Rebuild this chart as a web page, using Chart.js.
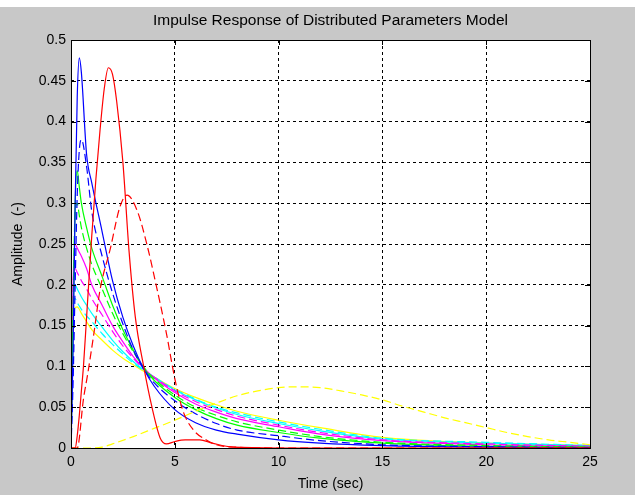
<!DOCTYPE html>
<html>
<head>
<meta charset="utf-8">
<script src="https://cdn.jsdelivr.net/npm/chart.js@4"></script>
<style>
    html, body { margin: 0; padding: 0; background: #ffffff; }
    #wrap { width: 635px; height: 495px; }
</style>
</head>
<body>
<div id="wrap"><canvas id="chart" width="635" height="495"></canvas></div>
<script>
// time grid shared by the exponential-like responses
const T = [0, 0.1, 0.2, 0.3, 0.4, 0.5, 0.75, 1, 1.5, 2, 2.5, 3, 3.5, 4, 5, 6, 7, 8, 10, 12, 15, 20, 25];

const blueSolid     = [0, 0.12, 0.30, 0.43, 0.478, 0.46, 0.36, 0.325, 0.265, 0.205, 0.16, 0.125, 0.097, 0.076, 0.047, 0.031, 0.022, 0.017, 0.010, 0.006, 0.003, 0.001, 0];
const blueDashed    = [0, 0.08, 0.20, 0.31, 0.365, 0.378, 0.345, 0.29, 0.235, 0.19, 0.152, 0.12, 0.097, 0.080, 0.058, 0.042, 0.030, 0.022, 0.015, 0.009, 0.004, 0.0015, 0.0005];
const greenSolid    = [0, 0.15, 0.30, 0.34, 0.32, 0.30, 0.27, 0.245, 0.21, 0.175, 0.145, 0.12, 0.098, 0.083, 0.062, 0.047, 0.036, 0.028, 0.019, 0.012, 0.006, 0.002, 0.001];
const greenDashed   = [0, 0.17, 0.29, 0.30, 0.285, 0.27, 0.245, 0.225, 0.195, 0.165, 0.14, 0.118, 0.099, 0.085, 0.065, 0.050, 0.040, 0.032, 0.022, 0.014, 0.007, 0.003, 0.001];
const magentaSolid  = [0, 0.20, 0.25, 0.245, 0.24, 0.235, 0.22, 0.20, 0.175, 0.15, 0.13, 0.112, 0.098, 0.086, 0.068, 0.054, 0.044, 0.036, 0.026, 0.017, 0.009, 0.004, 0.002];
const magentaDashed = [0, 0.20, 0.22, 0.215, 0.21, 0.205, 0.195, 0.183, 0.163, 0.143, 0.125, 0.11, 0.097, 0.087, 0.070, 0.057, 0.047, 0.039, 0.028, 0.019, 0.010, 0.005, 0.002];
const cyanSolid     = [0, 0.19, 0.20, 0.195, 0.19, 0.185, 0.175, 0.165, 0.148, 0.132, 0.118, 0.106, 0.096, 0.087, 0.071, 0.059, 0.049, 0.041, 0.030, 0.021, 0.011, 0.006, 0.003];
const cyanDashed    = [0, 0.18, 0.183, 0.178, 0.174, 0.17, 0.162, 0.155, 0.14, 0.127, 0.115, 0.104, 0.095, 0.087, 0.072, 0.060, 0.050, 0.043, 0.032, 0.023, 0.012, 0.007, 0.003];
const yellowSolid   = [0, 0.16, 0.172, 0.173, 0.17, 0.165, 0.155, 0.145, 0.132, 0.12, 0.11, 0.102, 0.094, 0.087, 0.073, 0.062, 0.053, 0.045, 0.034, 0.025, 0.013, 0.006, 0.003];

// narrow red pulses
const redT      = [0, 0.2, 0.3, 0.4, 0.5, 0.6, 0.75, 1, 1.2, 1.4, 1.6, 1.8, 2, 2.2, 2.5, 2.8, 3.1, 3.5, 3.9, 4.3, 4.6, 5, 5.5, 6.2, 6.8, 7.8, 10, 25];
const redSolid  = [0, 0, 0.015, 0.04, 0.07, 0.10, 0.16, 0.26, 0.33, 0.39, 0.44, 0.466, 0.458, 0.425, 0.35, 0.24, 0.16, 0.10, 0.05, 0.012, 0.005, 0.008, 0.010, 0.010, 0.006, 0.001, 0, 0];
const redDashT  = [0, 0.3, 0.6, 0.8, 1.1, 1.4, 1.9, 2.35, 2.7, 3.2, 3.65, 4.1, 4.6, 5, 5.4, 5.9, 6.5, 7, 8, 10, 25];
const redDashed = [0, 0, 0.06, 0.09, 0.14, 0.194, 0.245, 0.295, 0.31, 0.29, 0.25, 0.20, 0.14, 0.085, 0.045, 0.022, 0.010, 0.004, 0.001, 0, 0];

// slow, delayed response
const yellowT      = [0, 1, 1.5, 2, 3, 4, 5, 6, 7, 8, 9, 10, 11, 12, 13, 14, 15, 16, 17, 18, 19, 20, 21, 22, 23, 24, 25];
const yellowDashed = [0, 0, 0.001, 0.005, 0.014, 0.024, 0.034, 0.045, 0.055, 0.064, 0.070, 0.074, 0.075, 0.074, 0.070, 0.065, 0.059, 0.051, 0.044, 0.037, 0.031, 0.025, 0.019, 0.014, 0.010, 0.007, 0.004];

const xTicks = [0, 5, 10, 15, 20, 25];
const yTicks = [0, 0.05, 0.1, 0.15, 0.2, 0.25, 0.3, 0.35, 0.4, 0.45, 0.5];

const TITLE = 'Impulse Response of Distributed Parameters Model';
const FONT = 'Liberation Sans, Arial, sans-serif';
const DASH = [8, 4];

function toPoints(xs, ys) {
    return xs.map((x, i) => ({ x: x, y: ys[i] }));
}

function series(label, xs, ys, color, dashed) {
    return {
        label: label,
        data: toPoints(xs, ys),
        borderColor: color,
        backgroundColor: color,
        borderWidth: 1.2,
        borderDash: dashed ? DASH : [],
        pointRadius: 0,
        showLine: true,
        fill: false,
        cubicInterpolationMode: 'monotone'
    };
}

// grey figure, white axes box, inward ticks and the title centred on the axes
const figurePlugin = {
    id: 'figure',
    beforeDraw(chart) {
        const { ctx, chartArea: a } = chart;
        ctx.save();
        ctx.fillStyle = '#c8c8c8';
        ctx.fillRect(0, 7, chart.width, chart.height - 7);
        ctx.fillStyle = '#ffffff';
        ctx.fillRect(0, 0, chart.width, 7);
        ctx.fillRect(a.left, a.top, a.right - a.left, a.bottom - a.top);
        ctx.restore();
    },
    afterDraw(chart) {
        const { ctx, chartArea: a, scales } = chart;
        ctx.save();
        ctx.strokeStyle = '#000000';
        ctx.lineWidth = 1;
        ctx.strokeRect(Math.round(a.left) + 0.5, Math.round(a.top) + 0.5,
            Math.round(a.right - a.left), Math.round(a.bottom - a.top));
        ctx.beginPath();
        xTicks.forEach(v => {
            const px = Math.round(scales.x.getPixelForValue(v)) + 0.5;
            ctx.moveTo(px, a.bottom); ctx.lineTo(px, a.bottom - 5);
            ctx.moveTo(px, a.top); ctx.lineTo(px, a.top + 5);
        });
        yTicks.forEach(v => {
            const py = Math.round(scales.y.getPixelForValue(v)) + 0.5;
            ctx.moveTo(a.left, py); ctx.lineTo(a.left + 5, py);
            ctx.moveTo(a.right, py); ctx.lineTo(a.right - 5, py);
        });
        ctx.stroke();

        ctx.fillStyle = '#000000';
        ctx.font = '15.5px ' + FONT;
        ctx.textAlign = 'center';
        ctx.textBaseline = 'middle';
        ctx.fillText(TITLE, (a.left + a.right) / 2, 21);
        ctx.restore();
    }
};

new Chart(document.getElementById('chart').getContext('2d'), {
    type: 'scatter',
    data: {
        datasets: [
            series('Red', redT, redSolid, '#ff0000', false),
            series('Red (dashed)', redDashT, redDashed, '#ff0000', true),
            series('Yellow (dashed)', yellowT, yellowDashed, '#ffff00', true),
            series('Blue', T, blueSolid, '#0000ff', false),
            series('Blue (dashed)', T, blueDashed, '#0000ff', true),
            series('Green', T, greenSolid, '#00ff00', false),
            series('Green (dashed)', T, greenDashed, '#00ff00', true),
            series('Magenta', T, magentaSolid, '#ff00ff', false),
            series('Magenta (dashed)', T, magentaDashed, '#ff00ff', true),
            series('Cyan', T, cyanSolid, '#00ffff', false),
            series('Cyan (dashed)', T, cyanDashed, '#00ffff', true),
            series('Yellow', T, yellowSolid, '#ffff00', false)
        ]
    },
    options: {
        responsive: false,
        animation: false,
        layout: { padding: { left: 0, right: 45, top: 40, bottom: 0 } },
        plugins: {
            legend: { display: false },
            tooltip: { enabled: false },
            title: { display: false }
        },
        scales: {
            x: {
                type: 'linear',
                min: 0,
                max: 25,
                afterFit: (scale) => { scale.height = 47; },
                afterBuildTicks: (scale) => { scale.ticks = xTicks.map(v => ({ value: v })); },
                ticks: {
                    color: '#000000',
                    padding: 6,
                    font: { family: FONT, size: 14 },
                    maxRotation: 0,
                    callback: (v) => String(v)
                },
                grid: { color: '#000000', drawTicks: false, lineWidth: 1 },
                border: { display: false, dash: [3, 3] },
                title: {
                    display: true,
                    text: 'Time (sec)',
                    color: '#000000',
                    font: { family: FONT, size: 14 },
                    padding: { top: 0, bottom: 2 }
                }
            },
            y: {
                type: 'linear',
                min: 0,
                max: 0.5,
                afterFit: (scale) => { scale.width = 71; },
                afterBuildTicks: (scale) => { scale.ticks = yTicks.map(v => ({ value: v })); },
                ticks: {
                    color: '#000000',
                    padding: 5,
                    font: { family: FONT, size: 14 },
                    callback: (v) => String(Math.round(v * 100) / 100)
                },
                grid: { color: '#000000', drawTicks: false, lineWidth: 1 },
                border: { display: false, dash: [3, 3] },
                title: {
                    display: true,
                    text: 'Amplitude  (-)',
                    color: '#000000',
                    font: { family: FONT, size: 14 },
                    padding: { top: 10, bottom: 0 }
                }
            }
        }
    },
    plugins: [figurePlugin]
});
</script>
</body>
</html>
